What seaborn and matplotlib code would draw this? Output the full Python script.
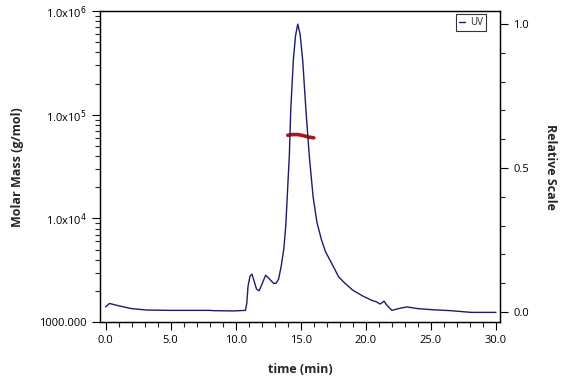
import numpy as np
import pandas as pd
import seaborn as sns
import matplotlib.pyplot as plt
from matplotlib.ticker import FixedLocator, FuncFormatter, MultipleLocator, LogLocator, NullFormatter

# UV trace (relative scale)
uv_time = [0.0, 0.3, 1.0, 2.0, 3.2, 5.0, 8.0, 8.3, 9.8, 10.75, 10.85, 10.95, 11.1, 11.25,
           11.4, 11.6, 11.8, 12.0, 12.3, 12.6, 12.9, 13.1, 13.3, 13.5, 13.7, 13.85, 13.95,
           14.05, 14.12, 14.23, 14.43, 14.6, 14.77, 14.95, 15.15, 15.4, 15.66, 15.95, 16.25,
           16.6, 16.9, 17.25, 17.6, 17.9, 18.4, 19.0, 19.8, 20.5, 20.8, 21.1, 21.4, 21.6,
           22.0, 22.5, 23.15, 24.0, 25.2, 26.5, 28.1, 30.0]
uv_signal = [0.018, 0.030, 0.022, 0.012, 0.007, 0.006, 0.006, 0.005, 0.004, 0.006, 0.03,
             0.09, 0.125, 0.132, 0.11, 0.08, 0.074, 0.095, 0.128, 0.115, 0.10, 0.10, 0.115,
             0.16, 0.22, 0.30, 0.39, 0.48, 0.54, 0.70, 0.875, 0.96, 1.0, 0.965, 0.875, 0.70,
             0.54, 0.40, 0.31, 0.25, 0.21, 0.18, 0.15, 0.123, 0.10, 0.076, 0.055, 0.040,
             0.036, 0.028, 0.038, 0.025, 0.006, 0.012, 0.018, 0.012, 0.008, 0.005, -0.001,
             -0.001]

# molar mass across the main peak
mm_time = [14.0, 14.3, 14.8, 15.2, 15.6, 16.0]
mm_value = [63500, 64500, 64500, 63000, 61000, 60000]

uv = pd.DataFrame({"time": uv_time, "signal": uv_signal})
mm = pd.DataFrame({"time": mm_time, "mass": mm_value})

sns.set_style("ticks")
plt.rcParams['font.family'] = ['Open Sans', 'DejaVu Sans']

fig = plt.figure(figsize=(5.68, 3.84), dpi=100)
ax = fig.add_axes([0.176, 0.161, 0.704, 0.81])
ax2 = ax.twinx()

sns.lineplot(data=uv, x="time", y="signal", ax=ax2, color="#1c1c6b", lw=1.0,
             label="UV", sort=False)
sns.lineplot(data=mm, x="time", y="mass", ax=ax, color="#b01515", lw=2.6)

# left axis: molar mass, log
ax.set_yscale("log")
ax.set_ylim(1000, 1e6)
ax.yaxis.set_major_locator(FixedLocator([1e3, 1e4, 1e5, 1e6]))
def mass_fmt(v, pos):
    if v <= 1000:
        return "1000.000"
    return r"1.0x10$^{%d}$" % int(round(np.log10(v)))
ax.yaxis.set_major_formatter(FuncFormatter(mass_fmt))
ax.yaxis.set_minor_locator(LogLocator(base=10, subs=np.arange(2, 10)))
ax.yaxis.set_minor_formatter(NullFormatter())

ax.set_xlim(-0.43, 30.3)
ax.xaxis.set_major_locator(MultipleLocator(5))
ax.xaxis.set_minor_locator(MultipleLocator(1))
ax.xaxis.set_major_formatter(FuncFormatter(lambda v, p: "%.1f" % v))

# right axis: relative scale
ax2.set_ylim(-0.035, 1.045)
ax2.yaxis.set_major_locator(MultipleLocator(0.5))
ax2.yaxis.set_minor_locator(MultipleLocator(0.1))
ax2.yaxis.set_major_formatter(FuncFormatter(lambda v, p: "%.1f" % v))

ax.set_xlabel("time (min)", fontsize=9, fontweight="bold", labelpad=12)
ax.set_ylabel("Molar Mass (g/mol)", fontsize=9, fontweight="bold", labelpad=11)
ax2.set_ylabel("Relative Scale", fontsize=9, fontweight="bold", rotation=270,
               labelpad=20)

for a in (ax, ax2):
    a.tick_params(which="major", direction="out", length=6, width=0.8,
                  labelsize=8, colors="black")
    a.tick_params(which="minor", direction="out", length=3.5, width=0.8)
    for s in a.spines.values():
        s.set_linewidth(0.9)
        s.set_color("black")

leg = ax2.legend(loc="upper right", bbox_to_anchor=(0.965, 0.99), fontsize=7,
                 frameon=True, fancybox=False, handlelength=0.6, handletextpad=0.5,
                 borderpad=0.3, borderaxespad=0.0, edgecolor="black")
leg.get_frame().set_linewidth(0.8)

fig.savefig("out.png", dpi=100)
